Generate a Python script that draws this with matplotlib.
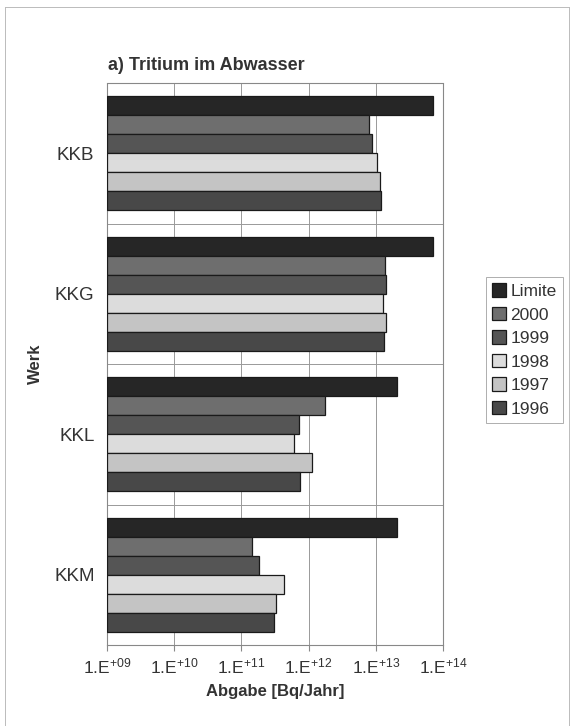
import matplotlib
matplotlib.use("Agg")
import matplotlib.pyplot as plt
from matplotlib.lines import Line2D

plt.rcParams['font.family'] = ['Liberation Sans', 'DejaVu Sans']
plt.rcParams['mathtext.default'] = 'regular'

# data (Bq/Jahr)
werke = ["KKB", "KKG", "KKL", "KKM"]
series = ["Limite", "2000", "1999", "1998", "1997", "1996"]
limite = [7.0e13, 7.1e13, 2.05e13, 2.1e13]
y2000 = [7.9e12, 1.37e13, 1.75e12, 1.44e11]
y1999 = [8.7e12, 1.4e13, 7.2e11, 1.8e11]
y1998 = [1.05e13, 1.28e13, 6.0e11, 4.3e11]
y1997 = [1.15e13, 1.4e13, 1.12e12, 3.3e11]
y1996 = [1.2e13, 1.33e13, 7.4e11, 3.1e11]
colors = ["#262626", "#6e6e6e", "#555555", "#dcdcdc", "#c4c4c4", "#484848"]

xticks = [1e9, 1e10, 1e11, 1e12, 1e13, 1e14]
xticklabels = [r"1.E$^{+09}$", r"1.E$^{+10}$", r"1.E$^{+11}$",
               r"1.E$^{+12}$", r"1.E$^{+13}$", r"1.E$^{+14}$"]

values = [limite, y2000, y1999, y1998, y1997, y1996]

fig = plt.figure(figsize=(5.7, 7.26), dpi=100)
ax = fig.add_axes([107 / 570, 1 - 645 / 726, 336 / 570, 562 / 726])

base = 1e9
h = 0.81 / 6
for j, (name, vals) in enumerate(zip(series, values)):
    ys = [i + 0.5 + (j - 2.5) * h for i in range(len(werke))]
    ax.barh(ys, [v - base for v in vals], left=base, height=h,
            color=colors[j], edgecolor="#1a1a1a", linewidth=0.9, label=name,
            zorder=3)

ax.set_xscale("log")
ax.set_xlim(1e9, 1e14)
ax.set_ylim(4, 0)
ax.set_xticks(xticks)
ax.set_xticklabels(xticklabels, fontsize=12.5, color="#333333")
ax.xaxis.set_minor_locator(plt.NullLocator())
ax.tick_params(axis="x", which="major", length=4, color="#888888", pad=4)

ax.set_yticks([i + 0.5 for i in range(len(werke))])
ax.set_yticklabels(werke, fontsize=13.5, color="#333333")
ax.set_yticks([1, 2, 3], minor=True)
ax.tick_params(axis="y", which="both", length=0, pad=9)

ax.grid(True, axis="x", which="major", color="#999999", linewidth=0.7, zorder=0)
ax.grid(True, axis="y", which="minor", color="#999999", linewidth=0.7, zorder=0)
for s in ax.spines.values():
    s.set_color("#888888")
    s.set_linewidth(0.8)
    s.set_linestyle((0, (1, 1)))

ax.set_xlabel("Abgabe [Bq/Jahr]", fontsize=12, fontweight="bold", color="#333333", labelpad=6)
ax.set_ylabel("Werk", fontsize=12, fontweight="bold", color="#333333", labelpad=8)
fig.text(108 / 570, 1 - 66 / 726, "a) Tritium im Abwasser", fontsize=13,
         fontweight="bold", color="#333333", ha="left", va="center")

leg = ax.legend(loc="center left", bbox_to_anchor=(486 / 570, 1 - 350 / 726),
                bbox_transform=fig.transFigure, fontsize=12.5, frameon=True,
                fancybox=False, handlelength=0.8, handleheight=0.8,
                handletextpad=0.25, labelspacing=0.45, borderpad=0.35,
                borderaxespad=0)
leg.get_frame().set_edgecolor("#999999")
leg.get_frame().set_linewidth(0.7)
for t in leg.get_texts():
    t.set_color("#333333")

# faint page frame
for xs, ys in [([5, 5], [7, 726]), ([5, 569], [7, 7]), ([569, 569], [7, 726])]:
    fig.add_artist(Line2D([x / 570 for x in xs], [1 - y / 726 for y in ys],
                          transform=fig.transFigure, color="#bbbbbb", linewidth=0.7))

fig.savefig("out.png", dpi=100, facecolor="white")
